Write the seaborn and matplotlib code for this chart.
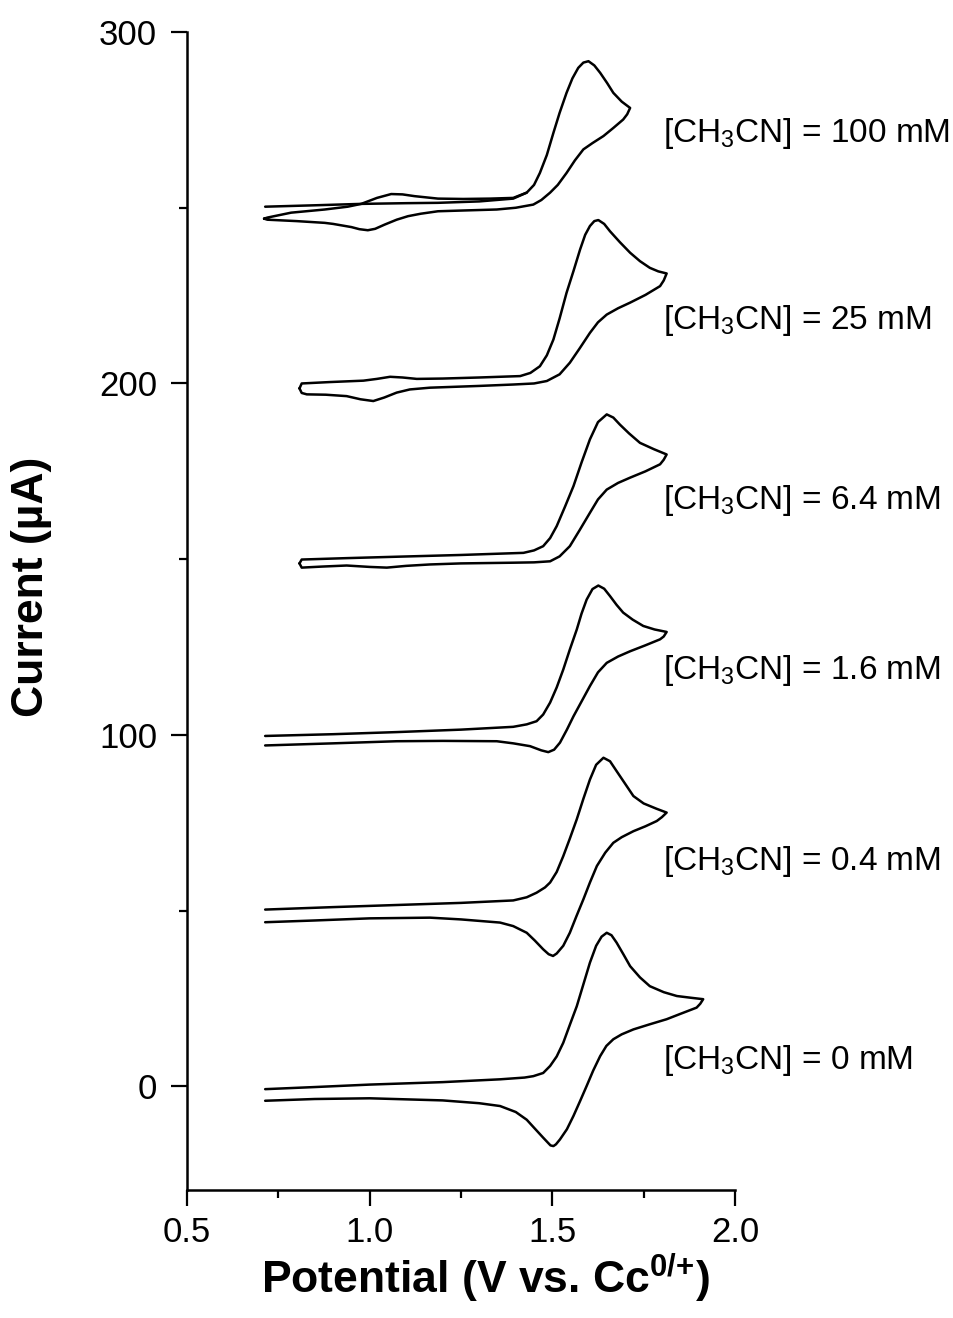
import pandas as pd
import matplotlib
matplotlib.use("Agg")
import matplotlib.pyplot as plt
import seaborn as sns
from matplotlib.ticker import MultipleLocator

# --- Dados (corrente já com o deslocamento vertical de cada curva) ---

# [CH3CN] = 0 mM
e_0mM = [0.714, 0.85, 1.0, 1.2, 1.357, 1.424, 1.448, 1.475, 1.494, 1.512, 1.530, 1.548,
         1.567, 1.585, 1.603, 1.620, 1.635, 1.649, 1.662, 1.676, 1.695, 1.713, 1.740,
         1.767, 1.805, 1.841, 1.880, 1.913,
         1.905, 1.895, 1.850, 1.813, 1.765, 1.722, 1.690, 1.667, 1.648, 1.631, 1.612,
         1.594, 1.576, 1.558, 1.540, 1.521, 1.510, 1.503, 1.495, 1.475, 1.452, 1.430,
         1.400, 1.357, 1.300, 1.200, 1.000, 0.850, 0.714]
i_0mM = [-0.8, -0.2, 0.5, 1.2, 2.0, 2.5, 2.9, 3.8, 5.8, 8.5, 12.4, 17.5,
         22.8, 29.0, 35.2, 40.0, 42.6, 43.7, 43.0, 40.9, 37.5, 34.2, 31.0,
         28.5, 26.8, 25.7, 25.2, 24.8,
         23.5, 22.4, 20.6, 19.1, 17.6, 16.2, 14.8, 13.4, 11.5, 8.6, 4.5,
         0.1, -4.2, -8.4, -12.2, -15.1, -16.5, -17.0, -16.8, -14.6, -12.0, -9.5,
         -7.3, -5.6, -4.8, -4.0, -3.4, -3.6, -4.1]

# [CH3CN] = 0.4 mM
e_04mM = [0.714, 0.9, 1.074, 1.25, 1.393, 1.430, 1.457, 1.480, 1.494, 1.512, 1.530, 1.548,
          1.567, 1.585, 1.603, 1.620, 1.640, 1.658, 1.676, 1.700, 1.722, 1.750, 1.785, 1.813,
          1.800, 1.786, 1.755, 1.722, 1.690, 1.667, 1.645, 1.622, 1.603, 1.585, 1.566,
          1.548, 1.530, 1.512, 1.502, 1.490, 1.475, 1.452, 1.430, 1.393, 1.357, 1.250,
          1.165, 1.000, 0.850, 0.714]
i_04mM = [50.3, 51.0, 51.6, 52.2, 52.9, 53.8, 55.1, 56.6, 58.0, 61.0, 65.5, 70.5,
          76.0, 81.8, 87.3, 91.5, 93.5, 92.5, 89.7, 86.0, 82.6, 80.5, 79.0, 77.9,
          76.6, 75.5, 74.0, 72.6, 70.9, 69.3, 66.5, 62.7, 58.0, 53.2, 48.4,
          43.7, 40.0, 37.8, 37.1, 37.6, 39.0, 41.5, 43.7, 45.6, 46.6, 47.5,
          48.0, 47.8, 47.2, 46.7]

# [CH3CN] = 1.6 mM
e_16mM = [0.714, 0.9, 1.074, 1.25, 1.393, 1.430, 1.457, 1.475, 1.494, 1.512, 1.530, 1.548,
          1.567, 1.580, 1.594, 1.610, 1.626, 1.642, 1.658, 1.676, 1.694, 1.720, 1.749,
          1.780, 1.813,
          1.805, 1.795, 1.755, 1.713, 1.680, 1.649, 1.625, 1.603, 1.580, 1.558, 1.540,
          1.521, 1.505, 1.489, 1.470, 1.439, 1.393, 1.348, 1.200, 1.074, 0.900, 0.714]
i_16mM = [99.7, 100.2, 100.8, 101.5, 102.3, 103.0, 103.9, 105.8, 109.2, 113.5, 118.6, 124.3,
          130.0, 134.5, 138.5, 141.5, 142.5, 141.6, 139.5, 137.0, 134.8, 132.8, 131.0,
          130.0, 129.3,
          128.0, 127.2, 125.5, 123.8, 122.3, 120.5, 117.8, 113.9, 109.5, 105.3, 101.5,
          97.8, 95.8, 95.1, 95.6, 96.8, 97.6, 98.2, 98.3, 98.2, 97.6, 97.0]

# [CH3CN] = 6.4 mM
e_64mM = [0.808, 0.814, 0.937, 1.074, 1.25, 1.421, 1.450, 1.475, 1.494, 1.512, 1.535, 1.558,
          1.580, 1.603, 1.625, 1.649, 1.667, 1.685, 1.710, 1.740, 1.778, 1.813,
          1.805, 1.795, 1.755, 1.713, 1.680, 1.649, 1.625, 1.603, 1.575, 1.548, 1.520,
          1.494, 1.450, 1.393, 1.250, 1.165, 1.100, 1.047, 1.000, 0.937, 0.870, 0.814, 0.808]
i_64mM = [148.8, 149.9, 150.3, 150.7, 151.2, 151.8, 152.5, 153.7, 156.0, 159.4, 165.0, 170.8,
          177.5, 184.1, 189.0, 191.2, 190.3, 188.3, 185.8, 183.1, 181.3, 179.8,
          178.3, 177.0, 175.0, 173.2, 171.7, 169.8, 167.0, 163.2, 158.3, 153.7, 150.8,
          149.4, 149.1, 149.0, 148.8, 148.5, 148.1, 147.6, 147.8, 148.2, 147.9, 147.6, 148.8]

# [CH3CN] = 25 mM
e_25mM = [0.808, 0.814, 0.891, 0.983, 1.020, 1.056, 1.090, 1.129, 1.200, 1.300, 1.412, 1.440,
          1.466, 1.485, 1.503, 1.520, 1.539, 1.558, 1.576, 1.590, 1.603, 1.615, 1.626,
          1.642, 1.658, 1.685, 1.713, 1.740, 1.767, 1.790, 1.813,
          1.805, 1.795, 1.755, 1.713, 1.680, 1.649, 1.625, 1.603, 1.575, 1.548, 1.520,
          1.485, 1.450, 1.393, 1.300, 1.165, 1.110, 1.074, 1.040, 1.010, 0.975, 0.937,
          0.880, 0.828, 0.814, 0.808]
i_25mM = [198.6, 200.0, 200.4, 200.8, 201.3, 201.9, 201.7, 201.3, 201.4, 201.7, 202.1, 203.0,
          204.9, 208.0, 212.5, 218.5, 225.8, 232.0, 238.1, 242.3, 244.8, 246.2, 246.5,
          245.4, 243.3, 240.2, 237.2, 234.8, 232.9, 231.9, 231.3,
          229.3, 227.7, 225.2, 223.0, 221.4, 219.6, 217.4, 214.4, 210.0, 205.9, 202.6,
          200.7, 200.0, 199.7, 199.3, 198.8, 198.3, 197.4, 196.0, 195.0, 195.5, 196.4,
          196.8, 196.9, 197.3, 198.6]

# [CH3CN] = 100 mM (ciclo completo + primeira varredura separada)
e_100mM = [0.711, 0.720, 0.785, 0.877, 0.940, 0.977, 1.020, 1.059, 1.090, 1.123, 1.187, 1.256,
           1.330, 1.393, 1.430, 1.450, 1.466, 1.485, 1.503, 1.520, 1.539, 1.555, 1.571,
           1.585, 1.599, 1.615, 1.631, 1.650, 1.667, 1.690, 1.713,
           1.705, 1.694, 1.667, 1.640, 1.610, 1.585, 1.562, 1.539, 1.515, 1.494, 1.470,
           1.448, 1.400, 1.348, 1.250, 1.187, 1.140, 1.105, 1.074, 1.041, 1.015, 0.995,
           0.972, 0.950, 0.900, 0.877, 0.800, 0.720, 0.711]
i_100mM = [246.9, 247.2, 248.6, 249.5, 250.3, 251.1, 252.8, 253.9, 253.8, 253.3, 252.6, 252.5,
           252.6, 252.8, 254.3, 256.5, 259.9, 265.0, 271.3, 277.0, 282.7, 286.8, 289.8,
           291.3, 291.7, 290.5, 288.4, 285.5, 282.7, 280.2, 278.4,
           276.6, 275.1, 272.7, 270.4, 268.4, 266.6, 263.5, 259.9, 256.5, 254.3, 252.2,
           250.9, 250.0, 249.5, 249.2, 249.0, 248.3, 247.6, 246.6, 245.2, 244.0, 243.6,
           243.9, 244.5, 245.4, 245.7, 246.2, 246.6, 246.9]
e_100mM_inicio = [0.714, 0.850, 0.977, 1.100, 1.187, 1.300, 1.393, 1.430]
i_100mM_inicio = [250.3, 250.7, 251.1, 251.3, 251.4, 251.8, 252.6, 254.3]

rotulos = ['[CH$_3$CN] = 100 mM', '[CH$_3$CN] = 25 mM', '[CH$_3$CN] = 6.4 mM',
           '[CH$_3$CN] = 1.6 mM', '[CH$_3$CN] = 0.4 mM', '[CH$_3$CN] = 0 mM']
rotulo_y = [268.6, 215.6, 164.2, 115.8, 61.7, 4.8]

curvas = [(e_0mM, i_0mM), (e_04mM, i_04mM), (e_16mM, i_16mM), (e_64mM, i_64mM),
          (e_25mM, i_25mM), (e_100mM, i_100mM), (e_100mM_inicio, i_100mM_inicio)]

# --- Plotagem ---

sns.set_theme(style="ticks")
plt.rcParams['font.family'] = ['Liberation Sans', 'DejaVu Sans']
plt.rcParams['text.color'] = 'black'
plt.rcParams['axes.labelcolor'] = 'black'
plt.rcParams['mathtext.fontset'] = 'custom'
plt.rcParams['mathtext.rm'] = 'Liberation Sans'
plt.rcParams['mathtext.bf'] = 'Liberation Sans:bold'
plt.rcParams['mathtext.it'] = 'Liberation Sans:italic'
plt.rcParams['mathtext.default'] = 'regular'

fig = plt.figure(figsize=(9.54, 13.18), dpi=100)
ax = fig.add_axes([0.196, 0.0971, 0.5744, 0.8786])

for e, i in curvas:
    df = pd.DataFrame({'E': e, 'I': i})
    sns.lineplot(data=df, x='E', y='I', sort=False, estimator=None,
                 color='black', linewidth=1.8, ax=ax,
                 solid_joinstyle='round', solid_capstyle='round')

for texto, y in zip(rotulos, rotulo_y):
    ax.text(1.803, y, texto, fontsize=24, va='baseline', ha='left',
            color='black', clip_on=False)

ax.set_xlim(0.5, 2.0)
ax.set_ylim(-29.5, 300)
ax.xaxis.set_minor_locator(MultipleLocator(0.25))
ax.yaxis.set_minor_locator(MultipleLocator(50))
ax.set_xticks([0.5, 1.0, 1.5, 2.0])
ax.set_xticklabels(['0.5', '1.0', '1.5', '2.0'])
ax.set_yticks([0, 100, 200, 300])
ax.set_yticklabels(['0', '100', '200', '300'])

ax.tick_params(which='major', direction='out', length=11.5, width=1.6,
               labelsize=25, color='black', labelcolor='black')
ax.tick_params(axis='y', which='major', pad=10)
ax.tick_params(axis='x', which='major', pad=7)
ax.tick_params(which='minor', direction='out', length=5.8, width=1.6, color='black')

for lado in ['top', 'right']:
    ax.spines[lado].set_visible(False)
for lado in ['left', 'bottom']:
    ax.spines[lado].set_linewidth(1.8)
    ax.spines[lado].set_color('black')

ax.set_xlabel(r'Potential (V vs. Cc$^{\mathbf{0/{+}}}$)', fontsize=32,
              fontweight='bold', color='black')
ax.set_ylabel('Current (µA)', fontsize=32, fontweight='bold', color='black')
ax.xaxis.set_label_coords(0.544, -0.0535)
ax.yaxis.set_label_coords(-0.246, 0.521)

fig.savefig('out.png', dpi=100, facecolor='white')
